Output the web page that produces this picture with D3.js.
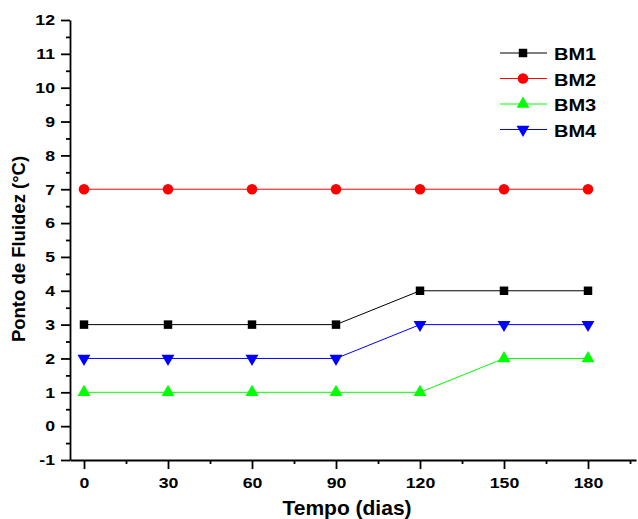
<!DOCTYPE html>
<html>
<head>
<meta charset="utf-8">
<script src="https://cdn.jsdelivr.net/npm/d3@7"></script>
<style>
  body { margin: 0; background: #fff; }
  text { font-family: "Liberation Sans", Arial, sans-serif; font-weight: bold; }
</style>
</head>
<body>
<svg id="chart" width="638" height="519"></svg>
<script>
// days on the x axis
const days = [0, 30, 60, 90, 120, 150, 180];
// pour point (°C) per sample
const bm1 = [3, 3, 3, 3, 4, 4, 4];
const bm2 = [7, 7, 7, 7, 7, 7, 7];
const bm3 = [1, 1, 1, 1, 1, 2, 2];
const bm4 = [2, 2, 2, 2, 3, 3, 3];
const seriesNames = ["BM1", "BM2", "BM3", "BM4"];
const xTicks = [0, 30, 60, 90, 120, 150, 180];
const yTicks = [-1, 0, 1, 2, 3, 4, 5, 6, 7, 8, 9, 10, 11, 12];

const series = [
  { name: seriesNames[0], values: bm1, color: "#000000", symbol: d3.symbolSquare, size: 72, rot: 0 },
  { name: seriesNames[1], values: bm2, color: "#ff0000", symbol: d3.symbolCircle, size: 88, rot: 0 },
  { name: seriesNames[2], values: bm3, color: "#00ff00", symbol: d3.symbolTriangle, size: 72, rot: 0 },
  { name: seriesNames[3], values: bm4, color: "#0000ff", symbol: d3.symbolTriangle, size: 72, rot: 180 }
];

const svg = d3.select("#chart");
const mLeft = 70, mRight = 636, mTop = 20, mBottom = 460;

const x = d3.scaleLinear().domain([-5, 197.14]).range([mLeft, mRight]);
const y = d3.scaleLinear().domain([-1, 12]).range([mBottom, mTop]);

// widen text a bit, the original font is broader than Liberation
function stretch(sel, k) {
  sel.each(function () {
    const len = this.getComputedTextLength();
    d3.select(this).attr("textLength", len * k).attr("lengthAdjust", "spacingAndGlyphs");
  });
}

// minor ticks first
svg.append("g")
  .attr("transform", `translate(0,${mBottom})`)
  .call(d3.axisBottom(x).tickValues(d3.range(15, 196, 30)).tickSize(4).tickFormat(""))
  .call(g => g.select(".domain").remove());
svg.append("g")
  .attr("transform", `translate(${mLeft},0)`)
  .call(d3.axisLeft(y).tickValues(d3.range(-0.5, 12, 1)).tickSize(4).tickFormat(""))
  .call(g => g.select(".domain").remove());

// x axis
const xa = svg.append("g")
  .attr("transform", `translate(0,${mBottom})`)
  .call(d3.axisBottom(x).tickValues(xTicks).tickSize(9).tickSizeOuter(0).tickPadding(8));
xa.selectAll("text").attr("font-size", 15).attr("fill", "#000");

// y axis (plain hyphen for -1 like the original)
const ya = svg.append("g")
  .attr("transform", `translate(${mLeft},0)`)
  .call(d3.axisLeft(y).tickValues(yTicks).tickFormat(d => String(d)).tickSize(9).tickSizeOuter(0).tickPadding(6));
ya.selectAll("text").attr("font-size", 15).attr("fill", "#000");

svg.selectAll(".domain, .tick line").attr("stroke", "#000").attr("stroke-width", 1.8);
svg.selectAll(".tick text").attr("font-family", "Liberation Sans, Arial, sans-serif").attr("font-weight", "bold");
stretch(svg.selectAll(".tick text"), 1.18);

// axis titles
svg.append("text")
  .attr("x", 347).attr("y", 515)
  .attr("text-anchor", "middle")
  .attr("font-size", 21)
  .text("Tempo (dias)");
svg.append("text")
  .attr("transform", "translate(25,249) rotate(-90)")
  .attr("text-anchor", "middle")
  .attr("font-size", 18.5)
  .text("Ponto de Fluidez (°C)");

// lines + markers
const line = d3.line().x((d, i) => x(days[i])).y(d => y(d));
series.forEach(s => {
  svg.append("path")
    .datum(s.values)
    .attr("fill", "none")
    .attr("stroke", s.color)
    .attr("stroke-width", 1)
    .attr("d", line);
  svg.append("g").selectAll("path")
    .data(s.values)
    .join("path")
    .attr("transform", (d, i) => `translate(${x(days[i])},${y(d)}) rotate(${s.rot})`)
    .attr("d", d3.symbol().type(s.symbol).size(s.size))
    .attr("fill", s.color);
});

// legend
const leg = svg.append("g");
series.forEach((s, i) => {
  const ly = 53 + i * 25.5;
  leg.append("line")
    .attr("x1", 500).attr("x2", 547).attr("y1", ly).attr("y2", ly)
    .attr("stroke", s.color).attr("stroke-width", 1);
  leg.append("path")
    .attr("transform", `translate(523,${ly}) rotate(${s.rot})`)
    .attr("d", d3.symbol().type(s.symbol).size(s.size))
    .attr("fill", s.color);
  leg.append("text")
    .attr("x", 554).attr("y", ly + 7)
    .attr("font-size", 16)
    .text(s.name);
});
stretch(leg.selectAll("text"), 1.25);
</script>
</body>
</html>
